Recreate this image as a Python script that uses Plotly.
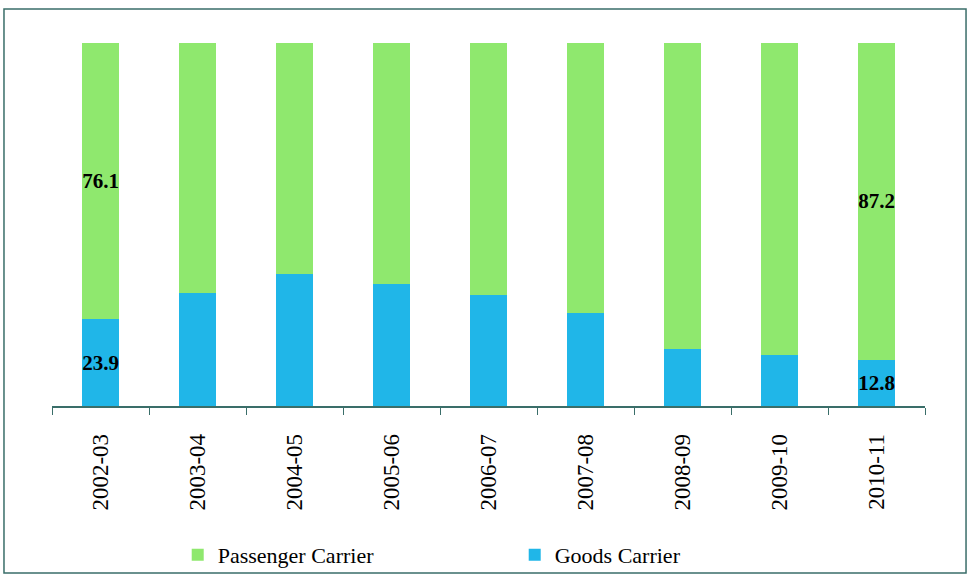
import plotly.graph_objects as go

# Share of vehicles by carrier type (%)
years = ["2002-03", "2003-04", "2004-05", "2005-06", "2006-07",
         "2007-08", "2008-09", "2009-10", "2010-11"]
goods = [23.9, 31.0, 36.3, 33.7, 30.5, 25.7, 15.7, 14.1, 12.8]
passenger = [76.1, 69.0, 63.7, 66.3, 69.5, 74.3, 84.3, 85.9, 87.2]

# Only the first and last years carry value labels
labelled = {0, len(years) - 1}
goods_text = [f"{v:.1f}" if i in labelled else "" for i, v in enumerate(goods)]
pass_text = [f"{v:.1f}" if i in labelled else "" for i, v in enumerate(passenger)]

GREEN = "#8FE86E"
BLUE = "#20B6E8"
FRAME = "#3A6E69"
SERIF = "Liberation Serif, Times New Roman, serif"

label_font = dict(family=SERIF, size=21, color="black", weight="bold")

fig = go.Figure()
fig.add_trace(go.Bar(
    x=years, y=goods, name="Goods Carrier",
    marker=dict(color=BLUE, line=dict(width=0)),
    text=goods_text, textposition="inside", insidetextanchor="middle",
    textfont=label_font, textangle=0, constraintext="none",
))
fig.add_trace(go.Bar(
    x=years, y=passenger, name="Passenger Carrier",
    marker=dict(color=GREEN, line=dict(width=0)),
    text=pass_text, textposition="inside", insidetextanchor="middle",
    textfont=label_font, textangle=0, constraintext="none",
))

# Thin frame around the whole chart
fig.add_shape(type="rect", xref="paper", yref="paper",
              x0=-0.055, x1=1.047, y0=-0.46, y1=1.094,
              line=dict(color=FRAME, width=1.5), fillcolor="rgba(0,0,0,0)",
              layer="below")

fig.update_layout(
    width=970, height=577,
    barmode="stack", bargap=0.61,
    plot_bgcolor="white", paper_bgcolor="white",
    margin=dict(l=52, r=45, t=43, b=171, autoexpand=False),
    showlegend=True,
    legend=dict(
        orientation="h", traceorder="reversed",
        x=0.144, xanchor="left", y=-0.41, yanchor="middle",
        font=dict(family=SERIF, size=22, color="black"),
        entrywidth=292, entrywidthmode="pixels",
        itemclick=False, itemdoubleclick=False,
        bgcolor="rgba(0,0,0,0)",
    ),
    font=dict(family=SERIF, color="black"),
    uniformtext=dict(mode=False),
)

fig.update_xaxes(
    type="category", automargin=False,
    showline=True, linecolor=FRAME, linewidth=1.5,
    ticks="outside", tickson="boundaries", ticklen=7,
    tickcolor=FRAME, tickwidth=1.2,
    tickangle=-90, ticklabelstandoff=17,
    tickfont=dict(family=SERIF, size=23, color="black"),
    showgrid=False, zeroline=False,
)
fig.update_yaxes(
    range=[0, 100], visible=False, showgrid=False, zeroline=False,
)

fig.write_html("out.html")
